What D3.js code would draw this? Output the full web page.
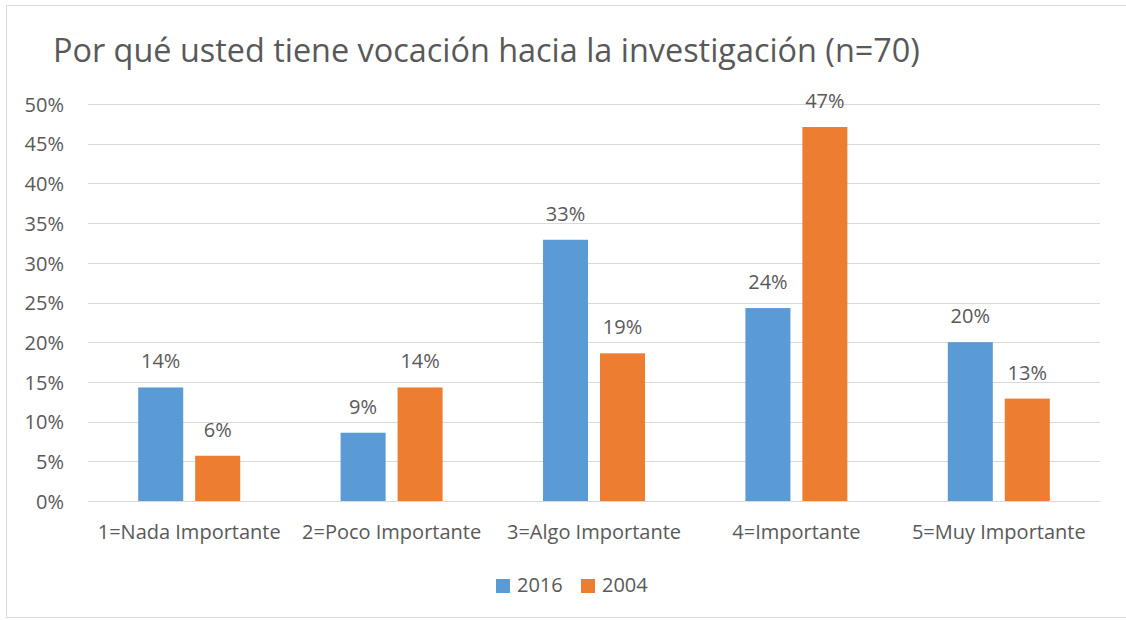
<!DOCTYPE html>
<html lang="es">
<head>
  <meta charset="utf-8">
  <title>vocacion</title>
  <style>
    body { margin: 0; background: #fff; }
    svg text { font-family: "Open Sans", sans-serif; fill: #595959; }
  </style>
</head>
<body>
<svg id="chart" width="1126" height="620"></svg>
<script src="https://d3js.org/d3.v7.min.js"></script>
<script>

// data
let categories = ["1=Nada Importante", "2=Poco Importante", "3=Algo Importante", "4=Importante", "5=Muy Importante"]
let seriesNames = ["2016", "2004"]
let values2016 = [14.3, 8.6, 32.9, 24.3, 20.0]
let values2004 = [5.7, 14.3, 18.6, 47.1, 12.9]
let yTicks = [0, 5, 10, 15, 20, 25, 30, 35, 40, 45, 50]
let colors = ["#5B9BD5", "#ED7D31"]

let svg = d3.select("#chart")

// chart frame
svg.append("rect")
  .attr("x", 6.5).attr("y", 5.5)
  .attr("width", 1130).attr("height", 612)
  .attr("fill", "#fff").attr("stroke", "#d9d9d9")

svg.append("text")
  .attr("x", 53).attr("y", 62)
  .style("font-size", "32.4px")
  .text("Por qué usted tiene vocación hacia la investigación (n=70)")

let plotLeft = 88, plotRight = 1100, plotTop = 104, plotBottom = 501

let x = d3.scaleBand().domain(categories).range([plotLeft, plotRight])
let x1 = d3.scaleBand().domain(seriesNames).range([0, 102]).paddingInner(0.21)
let y = d3.scaleLinear().domain([0, 50]).range([plotBottom, plotTop])

// gridlines
svg.append("g").selectAll("line").data(yTicks)
  .enter().append("line")
    .attr("x1", plotLeft).attr("x2", plotRight)
    .attr("y1", d => Math.round(y(d)) + 0.5).attr("y2", d => Math.round(y(d)) + 0.5)
    .attr("stroke", "#d9d9d9").attr("stroke-width", 1)

// y tick labels
let yAxis = d3.axisLeft(y).tickValues(yTicks).tickFormat(d => d + "%").tickSize(0).tickPadding(24)
let ya = svg.append("g").attr("transform", "translate(" + plotLeft + ",0)").call(yAxis)
ya.select(".domain").remove()
ya.selectAll("text").style("font-size", "20px").attr("fill", "#595959").attr("dy", "0.36em")

let rows = categories.map((c, i) => ({cat: c, vals: [values2016[i], values2004[i]]}))

let groups = svg.append("g").selectAll("g").data(rows)
  .enter().append("g")
    .attr("transform", d => "translate(" + (x(d.cat) + x.bandwidth() / 2 - 51) + ",0)")

groups.selectAll("rect").data(d => d.vals.map((v, j) => ({s: seriesNames[j], v: v, j: j})))
  .enter().append("rect")
    .attr("x", d => x1(d.s))
    .attr("width", x1.bandwidth())
    .attr("y", d => y(d.v))
    .attr("height", d => plotBottom - y(d.v))
    .attr("fill", d => colors[d.j])

groups.selectAll("text").data(d => d.vals.map((v, j) => ({s: seriesNames[j], v: v})))
  .enter().append("text")
    .attr("x", d => x1(d.s) + x1.bandwidth() / 2)
    .attr("y", d => y(d.v) - 19)
    .attr("text-anchor", "middle")
    .style("font-size", "20px")
    .text(d => Math.round(d.v) + "%")

// x labels
let xAxis = d3.axisBottom(x).tickSize(0).tickPadding(0)
let xa = svg.append("g").attr("transform", "translate(0," + plotBottom + ")").call(xAxis)
xa.select(".domain").attr("stroke", "#d9d9d9")
xa.selectAll("text").style("font-size", "20px").attr("fill", "#595959").attr("dy", null).attr("y", 38)

// legend
let legend = svg.append("g").selectAll("g").data(seriesNames)
  .enter().append("g")
    .attr("transform", (d, i) => "translate(" + (496 + i * 85) + ",579)")
legend.append("rect").attr("width", 14).attr("height", 14).attr("fill", (d, i) => colors[i])
legend.append("text").attr("x", 21).attr("y", 13).style("font-size", "20px").text(d => d)

</script>
</body>
</html>
